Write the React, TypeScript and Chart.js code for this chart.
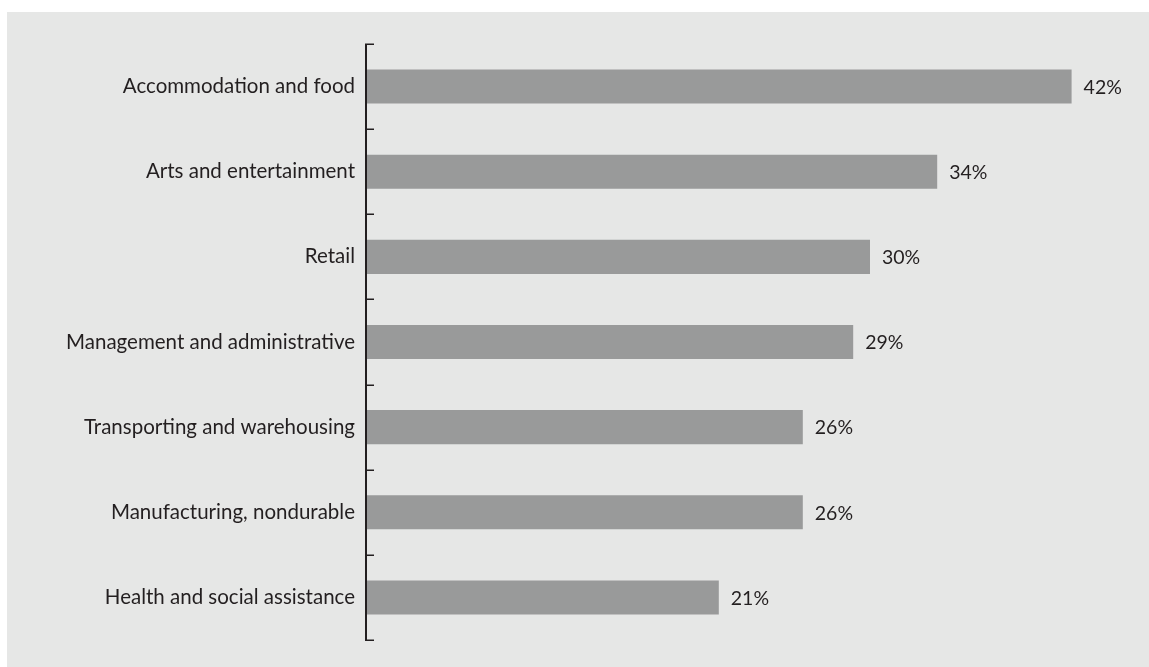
import React, { useEffect, useRef } from "react";
import { Chart, registerables } from "chart.js";

Chart.register(...registerables);

const categories = [
  "Accommodation and food",
  "Arts and entertainment",
  "Retail",
  "Management and administrative",
  "Transporting and warehousing",
  "Manufacturing, nondurable",
  "Health and social assistance",
];
const values = [42, 34, 30, 29, 26, 26, 21];
const valueLabels = ["42%", "34%", "30%", "29%", "26%", "26%", "21%"];

const FONT = "Lato, 'Noto Sans', sans-serif";

const decorPlugin = {
  id: "decor",
  beforeDraw(chart: any) {
    const ctx = chart.ctx;
    ctx.save();
    ctx.fillStyle = "#e6e7e6";
    ctx.fillRect(7, 12, chart.width - 7, chart.height - 12);
    ctx.restore();
  },
  afterDraw(chart: any) {
    const ctx = chart.ctx;
    const { left, top, bottom } = chart.chartArea;
    const n = categories.length;
    const step = (bottom - top) / n;
    ctx.save();
    ctx.strokeStyle = "#231f20";
    ctx.lineWidth = 2;
    ctx.beginPath();
    ctx.moveTo(left, top);
    ctx.lineTo(left, bottom);
    ctx.stroke();
    ctx.lineWidth = 1.5;
    for (let i = 0; i <= n; i++) {
      const y = Math.round(top + step * i) + 0.25;
      ctx.beginPath();
      ctx.moveTo(left - 1, y);
      ctx.lineTo(left + 8, y);
      ctx.stroke();
    }
    // value labels
    const meta = chart.getDatasetMeta(0);
    ctx.fillStyle = "#231f20";
    ctx.font = `19.5px ${FONT}`;
    ctx.textAlign = "left";
    ctx.textBaseline = "middle";
    meta.data.forEach((bar: any, i: number) => {
      ctx.fillText(valueLabels[i], bar.x + 12, bar.y + 1);
    });
    ctx.restore();
  },
};

export default function App() {
  const ref = useRef<HTMLCanvasElement>(null);
  useEffect(() => {
    const chart = new Chart(ref.current!, {
      type: "bar",
      data: {
        labels: categories,
        datasets: [
          {
            data: values,
            backgroundColor: "#999a9a",
            borderWidth: 0,
            barPercentage: 0.4,
            categoryPercentage: 1,
          },
        ],
      },
      options: {
        indexAxis: "y",
        animation: false,
        responsive: false,
        maintainAspectRatio: false,
        layout: { padding: { top: 44, bottom: 27, right: 27, left: 0 } },
        plugins: {
          legend: { display: false },
          tooltip: { enabled: false },
          title: { display: false },
        },
        scales: {
          x: { display: false, min: 0, max: 45 },
          y: {
            grid: { display: false, drawTicks: false },
            border: { display: false },
            afterFit: (scale: any) => {
              scale.width = 366;
            },
            ticks: {
              padding: 11,
              color: "#231f20",
              font: { family: FONT, size: 20.5 },
            },
          },
        },
      },
      plugins: [decorPlugin],
    });
    return () => chart.destroy();
  }, []);
  return (
    <div style={{ position: "fixed", left: 0, top: 0, width: 1149, height: 667, background: "#fff" }}>
      <canvas ref={ref} width={1149} height={667} style={{ display: "block" }} />
    </div>
  );
}
